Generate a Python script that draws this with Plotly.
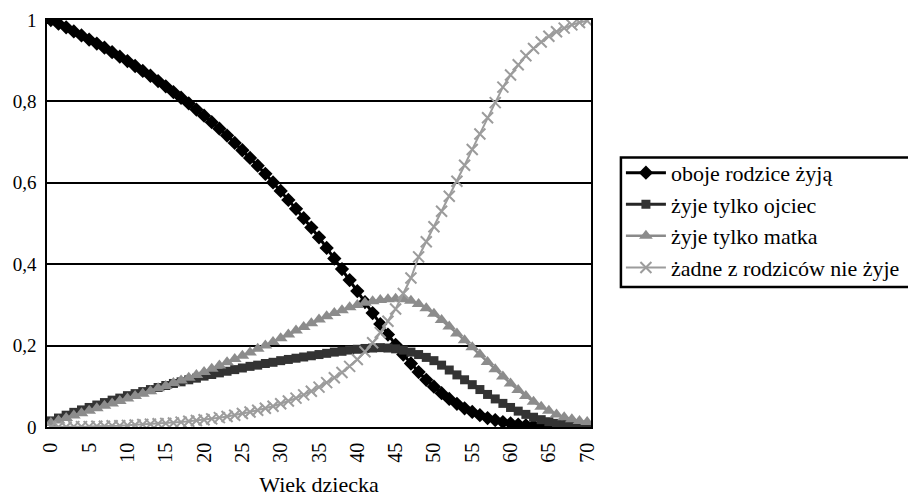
import plotly.graph_objects as go

ages = list(range(71))

oboje = [1.000, 0.991, 0.982, 0.972, 0.962, 0.952, 0.942, 0.932, 0.921, 0.910,
         0.899, 0.887, 0.875, 0.863, 0.850, 0.837, 0.823, 0.809, 0.795, 0.780,
         0.765, 0.749, 0.733, 0.716, 0.698, 0.680, 0.661, 0.642, 0.622, 0.601,
         0.580, 0.558, 0.536, 0.513, 0.490, 0.466, 0.440, 0.414, 0.388, 0.361,
         0.334, 0.307, 0.280, 0.253, 0.227, 0.202, 0.178, 0.156, 0.135, 0.116,
         0.099, 0.083, 0.069, 0.057, 0.046, 0.037, 0.029, 0.022, 0.017, 0.012,
         0.009, 0.006, 0.004, 0.003, 0.002, 0.001, 0.001, 0.000, 0.000, 0.000,
         0.000]

ojciec = [0.015, 0.022, 0.029, 0.036, 0.042, 0.048, 0.054, 0.060, 0.066, 0.071,
          0.077, 0.082, 0.087, 0.092, 0.097, 0.102, 0.107, 0.111, 0.116, 0.120,
          0.125, 0.129, 0.133, 0.137, 0.141, 0.145, 0.149, 0.152, 0.156, 0.159,
          0.163, 0.166, 0.169, 0.172, 0.175, 0.178, 0.181, 0.184, 0.186, 0.189,
          0.191, 0.193, 0.194, 0.195, 0.194, 0.192, 0.189, 0.184, 0.178, 0.171,
          0.163, 0.152, 0.140, 0.128, 0.116, 0.104, 0.092, 0.080, 0.069, 0.058,
          0.048, 0.039, 0.031, 0.024, 0.018, 0.013, 0.009, 0.006, 0.004, 0.002,
          0.001]

matka = [0.010, 0.016, 0.022, 0.028, 0.034, 0.040, 0.046, 0.052, 0.058, 0.064,
         0.070, 0.076, 0.082, 0.088, 0.095, 0.101, 0.108, 0.114, 0.121, 0.128,
         0.135, 0.143, 0.151, 0.159, 0.167, 0.175, 0.183, 0.192, 0.200, 0.209,
         0.218, 0.227, 0.237, 0.246, 0.255, 0.264, 0.272, 0.280, 0.287, 0.294,
         0.300, 0.305, 0.309, 0.312, 0.314, 0.315, 0.314, 0.310, 0.302, 0.292,
         0.278, 0.263, 0.247, 0.230, 0.213, 0.196, 0.178, 0.160, 0.142, 0.124,
         0.107, 0.091, 0.076, 0.062, 0.050, 0.040, 0.031, 0.024, 0.019, 0.015,
         0.012]

zadne = [0.000, 0.000, 0.000, 0.001, 0.001, 0.001, 0.002, 0.002, 0.003, 0.003,
         0.004, 0.005, 0.006, 0.007, 0.008, 0.009, 0.010, 0.012, 0.014, 0.016,
         0.018, 0.020, 0.023, 0.026, 0.029, 0.033, 0.037, 0.041, 0.046, 0.051,
         0.057, 0.064, 0.071, 0.079, 0.088, 0.098, 0.109, 0.121, 0.134, 0.149,
         0.166, 0.185, 0.207, 0.232, 0.260, 0.290, 0.328, 0.366, 0.418, 0.455,
         0.492, 0.530, 0.567, 0.604, 0.643, 0.682, 0.720, 0.760, 0.797, 0.835,
         0.865, 0.890, 0.912, 0.930, 0.946, 0.960, 0.971, 0.980, 0.988, 0.994,
         0.998]

names = ["oboje rodzice żyją", "żyje tylko ojciec", "żyje tylko matka",
         "żadne z rodziców nie żyje"]

y_ticks = [0, 0.2, 0.4, 0.6, 0.8, 1]
y_labels = ["0", "0,2", "0,4", "0,6", "0,8", "1"]
x_ticks = list(range(0, 71, 5))

FONT = "Liberation Serif, Times New Roman, serif"

fig = go.Figure()
styles = [
    dict(line=dict(color="#000000", width=3),
         marker=dict(symbol="diamond", size=11, color="#000000")),
    dict(line=dict(color="#262626", width=3),
         marker=dict(symbol="square", size=9, color="#333333")),
    dict(line=dict(color="#8a8a8a", width=2.5),
         marker=dict(symbol="triangle-up", size=12, color="#8c8c8c")),
    dict(line=dict(color="#9c9c9c", width=2),
         marker=dict(symbol="x-thin-open", size=11,
                     line=dict(color="#999999", width=2))),
]
for i, (nm, ys) in enumerate(zip(names, [oboje, ojciec, matka, zadne])):
    fig.add_trace(go.Scatter(x=ages, y=ys, name=nm, mode="lines+markers",
                             **styles[i]))

# legend frame drawn as a rectangle so its padding matches the reference
fig.add_shape(type="rect", xref="paper", yref="paper",
              x0=1.055, x1=1.590, y0=0.344, y1=0.662,
              line=dict(color="black", width=2.5), fillcolor="white",
              layer="below")

# page body has an 8 px default margin: plot margins compensate for it
fig.update_layout(
    width=916, height=501,
    margin=dict(l=39, r=333, t=12, b=82),
    paper_bgcolor="white", plot_bgcolor="white",
    font=dict(family=FONT, color="black", size=20),
    showlegend=True,
    legend=dict(x=1.055, y=0.676, xanchor="left", yanchor="top",
                borderwidth=0, bgcolor="rgba(0,0,0,0)",
                font=dict(family=FONT, size=22, color="black"),
                tracegroupgap=0, itemwidth=40),
    xaxis=dict(range=[-0.5, 70.5], tickmode="array", tickvals=x_ticks,
               ticktext=[str(v) for v in x_ticks], tickangle=-90,
               showgrid=False, zeroline=False, showline=True,
               linecolor="black", linewidth=1.5, mirror=True,
               automargin=False, ticklabelstandoff=6,
               ticklabeloverflow="allow",
               tickfont=dict(family=FONT, size=20, color="black"),
               title=dict(text="Wiek dziecka",
                          font=dict(family=FONT, size=22, color="black"),
                          standoff=15)),
    yaxis=dict(range=[0, 1], tickmode="array", tickvals=y_ticks,
               ticktext=y_labels, showgrid=True, gridcolor="black",
               gridwidth=2, zeroline=False, showline=True,
               linecolor="black", linewidth=1.5, mirror=True,
               automargin=False, ticklabelstandoff=5,
               ticklabeloverflow="allow",
               tickfont=dict(family=FONT, size=19, color="black"),
               ticks="", ticklen=0),
)

fig.write_html("out.html")
